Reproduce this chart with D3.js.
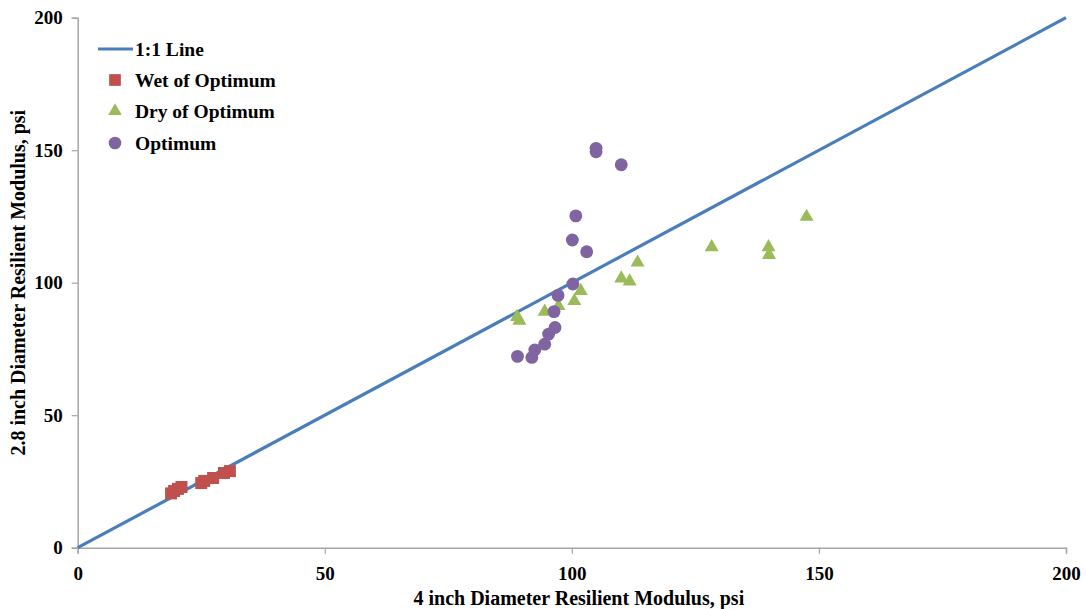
<!DOCTYPE html>
<html>
<head>
<meta charset="utf-8">
<script src="https://cdn.jsdelivr.net/npm/d3@7"></script>
<style>
  body { margin: 0; background: #fff; }
  svg text { font-family: "Liberation Serif", "Times New Roman", serif; font-weight: bold; }
</style>
</head>
<body>
<div id="chart"></div>
<script>
// data (psi)
var wetX = [18.9, 19.5, 20.3, 21.0, 25.0, 25.6, 27.4, 29.6, 30.8];
var wetY = [20.5, 21.4, 22.2, 22.9, 24.4, 25.2, 26.3, 28.2, 28.9];

var dryX = [88.9, 89.4, 94.5, 97.3, 100.5, 101.8, 110.0, 111.7, 113.3, 128.3, 139.8, 139.9, 147.5];
var dryY = [87.1, 85.7, 89.1, 91.2, 93.1, 96.9, 101.6, 100.5, 107.6, 113.4, 113.4, 110.5, 124.9];

var optX = [89.0, 91.9, 92.5, 94.5, 95.3, 96.6, 96.4, 97.2, 100.2, 103.0, 100.1, 100.8, 104.9, 104.9, 110.0];
var optY = [72.2, 71.8, 74.6, 76.8, 80.6, 83.1, 89.1, 95.2, 99.5, 111.7, 116.1, 125.2, 149.4, 150.7, 144.5];

var lineX = [0, 200];
var lineY = [0, 200];

var tickVals = [0, 50, 100, 150, 200];
var legendNames = ["1:1 Line", "Wet of Optimum", "Dry of Optimum", "Optimum"];

var width = 1086, height = 609;
var margin = {left: 77.7, right: 20, top: 17.7, bottom: 61.3};

var svg = d3.select("#chart").append("svg")
  .attr("width", width)
  .attr("height", height);

var x = d3.scaleLinear().domain([0, 200]).range([margin.left, width - margin.right]);
var y = d3.scaleLinear().domain([0, 200]).range([height - margin.bottom, margin.top]);

var axisColor = "#a6a6a6";

// axes
var xAxis = svg.append("g")
  .attr("transform", "translate(0," + y(0) + ")")
  .call(d3.axisBottom(x).tickValues(tickVals).tickSize(6).tickPadding(8));
var yAxis = svg.append("g")
  .attr("transform", "translate(" + x(0) + ",0)")
  .call(d3.axisLeft(y).tickValues(tickVals).tickSize(6).tickPadding(9));

[xAxis, yAxis].forEach(function(g){
  g.select(".domain").attr("stroke", axisColor).attr("stroke-width", 1.5);
  g.selectAll(".tick line").attr("stroke", axisColor).attr("stroke-width", 1.2);
  g.selectAll(".tick text")
    .attr("fill", "#000")
    .style("font-size", "19px")
    .style("font-family", "Liberation Serif, serif")
    .style("font-weight", "bold");
});
xAxis.selectAll(".tick text").attr("dy", "0.95em");

// axis titles
svg.append("text")
  .attr("x", (x(0) + x(200)) / 2 + 7)
  .attr("y", 605)
  .attr("text-anchor", "middle")
  .style("font-size", "20px")
  .text("4 inch Diameter Resilient Modulus, psi");

svg.append("text")
  .attr("transform", "translate(25," + (y(100)) + ") rotate(-90)")
  .attr("text-anchor", "middle")
  .style("font-size", "20px")
  .text("2.8 inch Diameter Resilient Modulus, psi");

// 1:1 line
var line = d3.line()
  .x(function(d){ return x(d[0]); })
  .y(function(d){ return y(d[1]); });

svg.append("path")
  .datum(d3.zip(lineX, lineY))
  .attr("d", line)
  .attr("fill", "none")
  .attr("stroke", "#4a7ebb")
  .attr("stroke-width", 3.2);

// markers
var sq = d3.symbol().type(d3.symbolSquare).size(144);
var tri = d3.symbol().type(d3.symbolTriangle).size(85);
var circ = d3.symbol().type(d3.symbolCircle).size(130);

function drawSeries(xs, ys, sym, color, cls){
  svg.append("g").attr("class", cls)
    .selectAll("path")
    .data(d3.zip(xs, ys))
    .enter()
    .append("path")
    .attr("d", sym)
    .attr("fill", color)
    .attr("transform", function(d){ return "translate(" + x(d[0]) + "," + y(d[1]) + ")"; });
}

drawSeries(wetX, wetY, sq, "#c0504d", "wet");
drawSeries(dryX, dryY, tri, "#9bbb59", "dry");
drawSeries(optX, optY, circ, "#8064a2", "opt");

// legend
var legend = svg.append("g").attr("class", "legend");
var legendY = [49, 80, 111, 143];
var legendSyms = [null, d3.symbol().type(d3.symbolSquare).size(137), d3.symbol().type(d3.symbolTriangle).size(80), d3.symbol().type(d3.symbolCircle).size(125)];
var legendColors = ["#4a7ebb", "#c0504d", "#9bbb59", "#8064a2"];

legendNames.forEach(function(name, i){
  if (i === 0) {
    legend.append("line")
      .attr("x1", 98).attr("x2", 133)
      .attr("y1", legendY[i]).attr("y2", legendY[i])
      .attr("stroke", legendColors[i])
      .attr("stroke-width", 3.2);
  } else {
    legend.append("path")
      .attr("d", legendSyms[i])
      .attr("fill", legendColors[i])
      .attr("transform", "translate(115," + legendY[i] + ")");
  }
  legend.append("text")
    .attr("x", 135)
    .attr("y", legendY[i])
    .attr("dy", "0.35em")
    .style("font-size", "19.5px")
    .text(name);
});
</script>
</body>
</html>
